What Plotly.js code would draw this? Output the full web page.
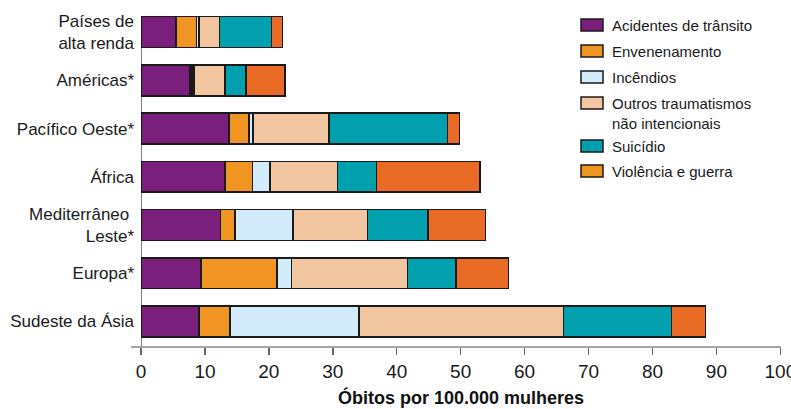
<!DOCTYPE html>
<html>
<head>
<meta charset="utf-8">
<script src="https://cdn.plot.ly/plotly-3.0.1.min.js"></script>
<style>
html,body{margin:0;padding:0;background:#fff;}
#chart{width:791px;height:409px;}
</style>
</head>
<body>
<div id="chart"></div>
<script>
// Categories (top to bottom)
const regions = ["Países de<br>alta renda", "Américas*", "Pacífico Oeste*", "África", "Mediterrâneo <br>Leste*", "Europa*", "Sudeste da Ásia"];

// Series names
const seriesNames = ["Acidentes de trânsito", "Envenenamento", "Incêndios", "Outros traumatismos<br>não intencionais", "Suicídio", "Violência e guerra"];

// Values: deaths per 100,000 women
const acidentes   = [5.5, 7.7, 13.8, 13.1, 12.4, 9.4, 9.1];
const envenenam   = [3.2, 0.3, 3.1, 4.3, 2.3, 11.9, 4.8];
const incendios   = [0.4, 0.3, 0.6, 2.8, 9.1, 2.2, 20.2];
const outros      = [3.2, 4.8, 11.9, 10.5, 11.6, 18.2, 32.0];
const suicidio    = [8.1, 3.3, 18.5, 6.1, 9.5, 7.6, 16.9];
const violencia   = [1.7, 6.1, 1.9, 16.2, 9.0, 8.2, 5.3];

const xTicks = [0, 10, 20, 30, 40, 50, 60, 70, 80, 90, 100];

const barColors = ["#7A1F7B", "#F09522", "#D2ECFB", "#F3C6A2", "#00A0AE", "#E96B25"];
const legendColors = ["#7A1F7B", "#F09522", "#D2ECFB", "#F3C6A2", "#00A0AE", "#F09522"];

const allSeries = [acidentes, envenenam, incendios, outros, suicidio, violencia];
const yIdx = regions.map((_, i) => i);

const FONT = '"Liberation Sans", Arial, "Roboto", sans-serif';

const traces = allSeries.map((vals, k) => ({
  type: 'bar',
  orientation: 'h',
  name: seriesNames[k],
  x: vals,
  y: yIdx,
  width: 0.64,
  marker: {color: barColors[k], line: {color: '#1a1a1a', width: 1.5}},
  showlegend: false,
  hoverinfo: 'x+name'
}));

// manual legend
const shapes = [];
const annotations = [];
const legendCenters = [25, 51, 77, 103, 146, 171]; // px from top
const H = 409, mT = 8, mB = 62;
const plotH = H - mT - mB;
const mL = 141, plotW = 640;
function px2paperY(py){ return 1 - (py - mT) / plotH; }
function px2paperX(px){ return (px - mL) / plotW; }
seriesNames.forEach((nm, k) => {
  const cy = legendCenters[k];
  shapes.push({type:'rect', xref:'paper', yref:'paper',
    x0: px2paperX(581), x1: px2paperX(603),
    y0: px2paperY(cy + 6), y1: px2paperY(cy - 6),
    fillcolor: legendColors[k], line:{color:'#1a1a1a', width:1.5}});
  annotations.push({xref:'paper', yref:'paper', x: px2paperX(610), y: px2paperY(cy - 10),
    xanchor:'left', yanchor:'top', align:'left', showarrow:false,
    text: nm, font:{family:FONT, size:15, color:'#1a1a1a'}});
});

// y-axis line from top of first bar down to the x axis
shapes.push({type:'line', xref:'x', yref:'y', x0:0, x1:0, y0:-0.32, y1:6.53,
  line:{color:'#555', width:1.5}, layer:'below'});
// x-axis line extending slightly left of zero
shapes.push({type:'line', xref:'paper', yref:'paper', x0: px2paperX(131), x1: 1, y0:0, y1:0,
  line:{color:'#888', width:1.5}});

const layout = {
  width: 791, height: 409,
  margin: {l: mL, r: 10, t: mT, b: mB},
  paper_bgcolor: '#fff', plot_bgcolor: '#fff',
  barmode: 'stack',
  bargap: 0.3,
  font: {family: FONT, color: '#1a1a1a'},
  xaxis: {
    range: [0, 100.1], tickvals: xTicks, ticktext: xTicks.map(String),
    showgrid: false, zeroline: false, showline: false,
    ticks: 'outside', ticklen: 7, tickwidth: 1.5, tickcolor: '#666',
    ticklabeloverflow: 'allow',
    tickfont: {family: FONT, size: 19, color: '#1a1a1a'},
    title: {text: '<b>Óbitos por 100.000 mulheres</b>', font: {family: FONT, size: 18, color: '#111'}, standoff: 10},
    fixedrange: true
  },
  yaxis: {
    range: [6.53, -0.5],
    tickvals: yIdx, ticktext: regions,
    showgrid: false, zeroline: false, showline: false,
    ticks: '', ticklabelstandoff: 6,
    tickfont: {family: FONT, size: 17, color: '#1a1a1a'},
    fixedrange: true
  },
  shapes: shapes,
  annotations: annotations,
  showlegend: false
};

Plotly.newPlot('chart', traces, layout, {displayModeBar: false, staticPlot: true});
</script>
</body>
</html>
